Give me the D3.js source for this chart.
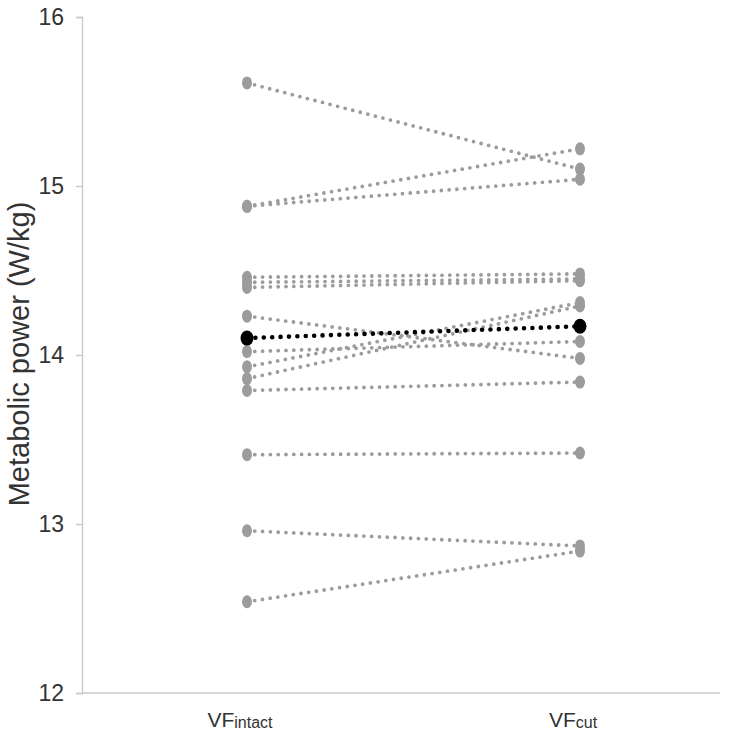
<!DOCTYPE html>
<html lang="en">

<head>
    <meta charset="UTF-8">
    <script src="https://d3js.org/d3.v7.min.js"></script>
    <title>Metabolic power</title>
    <style>
        body { margin: 0; background: #fff; }
        text { font-family: "Liberation Sans", Arial, sans-serif; fill: #333; }
    </style>
</head>

<body>
    <div id="chart"></div>
    <script>
        const width = 750;
        const height = 733;

        // data
        const categories = ["intact", "cut"];
        const vfIntact = [15.61, 14.88, 14.88, 14.46, 14.43, 14.40, 14.23, 14.02, 13.93, 13.86, 13.79, 13.41, 12.96, 12.54];
        const vfCut = [15.10, 15.22, 15.04, 14.48, 14.45, 14.44, 13.98, 14.08, 14.31, 14.29, 13.84, 13.42, 12.87, 12.84];
        const meanValues = [14.10, 14.17];
        const yTicks = [12, 13, 14, 15, 16];

        const axisColor = "#c8c8c8";
        const grey = "#9c9c9c";

        const svg = d3.select("#chart")
            .append("svg")
            .attr("width", width)
            .attr("height", height);

        const x = d3.scalePoint()
            .domain(categories)
            .range([247, 580]);

        const y = d3.scaleLinear()
            .domain([12, 16])
            .range([693, 17]);

        // axes
        const yAxis = svg.append("g")
            .attr("transform", "translate(82,0)")
            .call(d3.axisLeft(y).tickValues(yTicks).tickSize(6).tickPadding(12).tickFormat(d3.format("d")));
        yAxis.select(".domain").attr("stroke", axisColor).attr("stroke-width", 1.3);
        yAxis.selectAll(".tick line").attr("stroke", axisColor).attr("stroke-width", 1.3);
        yAxis.selectAll(".tick text").style("font-size", "23px").attr("fill", "#333");

        svg.append("line")
            .attr("x1", 82).attr("x2", 720)
            .attr("y1", y(12)).attr("y2", y(12))
            .attr("stroke", axisColor)
            .attr("stroke-width", 1.3);

        // x labels with subscript
        const xLab = svg.selectAll(".xlab")
            .data(categories)
            .enter()
            .append("text")
            .attr("class", "xlab")
            .attr("x", d => x(d) - 7)
            .attr("y", 727)
            .attr("text-anchor", "middle");
        xLab.append("tspan").style("font-size", "21px").text("VF");
        xLab.append("tspan").style("font-size", "16px").attr("dy", 1).text(d => d);

        svg.append("text")
            .attr("transform", "translate(29," + 354 + ") rotate(-90)")
            .attr("text-anchor", "middle")
            .style("font-size", "29px")
            .text("Metabolic power (W/kg)");

        // individual subjects
        const pairs = vfIntact.map((v, i) => [v, vfCut[i]]);

        svg.append("g")
            .selectAll("line")
            .data(pairs)
            .enter()
            .append("line")
            .attr("x1", x("intact"))
            .attr("x2", x("cut"))
            .attr("y1", d => y(d[0]))
            .attr("y2", d => y(d[1]))
            .attr("stroke", grey)
            .attr("stroke-width", 3.8)
            .attr("stroke-linecap", "round")
            .attr("stroke-dasharray", "0 7.8");

        const ends = [];
        pairs.forEach(p => {
            ends.push({ c: "intact", v: p[0] });
            ends.push({ c: "cut", v: p[1] });
        });

        svg.append("g")
            .selectAll("ellipse")
            .data(ends)
            .enter()
            .append("ellipse")
            .attr("cx", d => x(d.c))
            .attr("cy", d => y(d.v))
            .attr("rx", 5)
            .attr("ry", 6.5)
            .attr("fill", grey);

        // mean
        svg.append("line")
            .attr("x1", x("intact"))
            .attr("x2", x("cut"))
            .attr("y1", y(meanValues[0]))
            .attr("y2", y(meanValues[1]))
            .attr("stroke", "#000")
            .attr("stroke-width", 4.6)
            .attr("stroke-linecap", "round")
            .attr("stroke-dasharray", "0 8.4");

        svg.append("g")
            .selectAll("ellipse")
            .data(meanValues)
            .enter()
            .append("ellipse")
            .attr("cx", (d, i) => x(categories[i]))
            .attr("cy", d => y(d))
            .attr("rx", 6.5)
            .attr("ry", 7.5)
            .attr("fill", "#000");
    </script>
</body>

</html>
